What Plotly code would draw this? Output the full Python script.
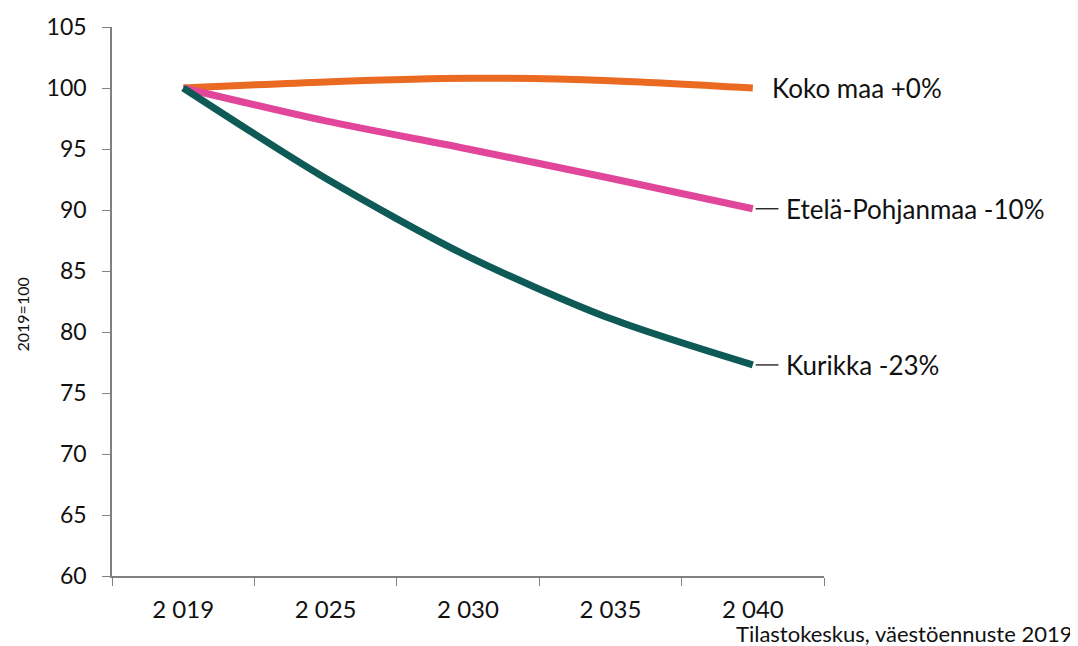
import plotly.graph_objects as go

years = ["2 019", "2 025", "2 030", "2 035", "2 040"]
koko_maa = [100.0, 100.5, 100.8, 100.6, 100.0]
etela_pohjanmaa = [100.0, 97.3, 95.0, 92.6, 90.1]
kurikka = [100.0, 92.6, 86.2, 81.1, 77.3]

series_names = ["Koko maa +0%", "Etelä-Pohjanmaa -10%", "Kurikka -23%"]
series_values = [koko_maa, etela_pohjanmaa, kurikka]
series_colors = ["#EB6A22", "#E2469A", "#0E5A57"]
y_ticks = [60, 65, 70, 75, 80, 85, 90, 95, 100, 105]

FONT = "Lato"
fig = go.Figure()
for name, vals, col in zip(series_names, series_values, series_colors):
    fig.add_trace(go.Scatter(x=years, y=vals, mode="lines", name=name,
                             line=dict(color=col, width=7, shape="spline", smoothing=0.8)))

last_idx = len(years) - 1
label_conf = [
    (series_names[0], koko_maa[-1], False),
    (series_names[1], etela_pohjanmaa[-1], True),
    (series_names[2], kurikka[-1], True),
]
for text, yv, leader in label_conf:
    if leader:
        fig.add_shape(type="line", xref="x", yref="y",
                      x0=last_idx + 0.02, x1=last_idx + 0.18, y0=yv, y1=yv,
                      line=dict(color="black", width=1.2))
    fig.add_annotation(x=last_idx, y=yv, xref="x", yref="y", text=text,
                       showarrow=False, xanchor="left", yanchor="middle",
                       xshift=(31 if leader else 17),
                       font=dict(family=FONT, size=26, color="#111111"))

fig.add_annotation(text="Tilastokeskus, väestöennuste 2019", xref="paper", yref="paper",
                   x=1.0, y=0, xanchor="right", yanchor="middle", xshift=251, yshift=-57,
                   showarrow=False, font=dict(family=FONT, size=22, color="#111111"))

fig.add_annotation(text="2019=100", xref="paper", yref="paper", x=0, y=0.5,
                   xanchor="center", yanchor="middle", xshift=-90, yshift=-13,
                   textangle=-90, showarrow=False,
                   font=dict(family=FONT, size=16, color="#111111"))

fig.update_layout(
    width=1070, height=638,
    margin=dict(l=104, r=254, t=19, b=70, autoexpand=False),
    paper_bgcolor="white", plot_bgcolor="white",
    showlegend=False,
    font=dict(family=FONT, color="#111111"),
)
fig.update_xaxes(type="category", range=[-0.5, 4.5], showline=True, linecolor="#808080",
                 linewidth=1.5, ticks="outside", tickson="boundaries", ticklen=8,
                 tickcolor="#808080", showgrid=False, zeroline=False, automargin=False,
                 tickfont=dict(family=FONT, size=24, color="#111111"), ticklabelstandoff=11)
fig.update_yaxes(range=[60, 105], tickvals=y_ticks, showline=True, linecolor="#808080",
                 linewidth=1.5, ticks="outside", ticklen=8, tickcolor="#808080",
                 showgrid=False, zeroline=False, automargin=False,
                 tickfont=dict(family=FONT, size=23, color="#111111"), ticklabelstandoff=11)

fig.write_html("out.html")
